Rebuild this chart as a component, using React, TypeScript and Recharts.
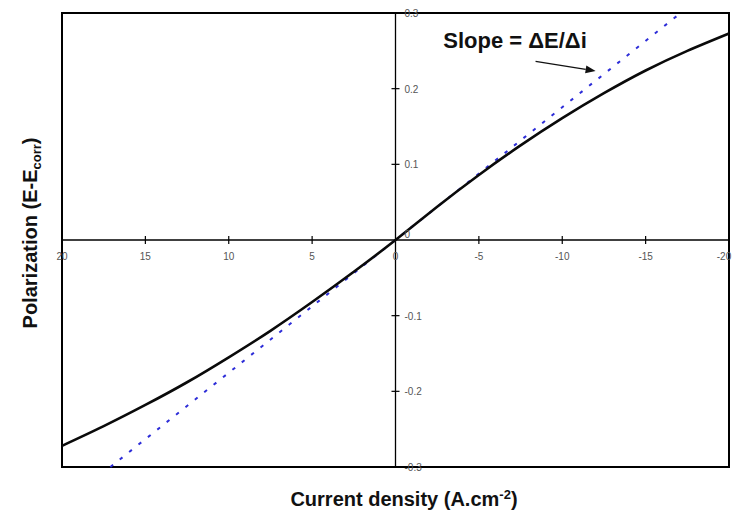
import React from 'react';
import { LineChart, Line, XAxis, YAxis, ReferenceLine, ReferenceArea } from 'recharts';

// current density (reversed axis: anodic left, cathodic right)
const CURRENT = [20, 17.5, 15, 12.5, 10, 7.5, 5, 2.5, 0, -2.5, -5, -7.5, -10, -12.5, -15, -17.5, -20];
const POLARIZATION = [-0.272, -0.246, -0.218, -0.188, -0.155, -0.12, -0.082, -0.042, 0, 0.044, 0.086, 0.125, 0.161, 0.194, 0.224, 0.25, 0.273];

// tangent at the origin, slope = dE/di
const TANGENT_I = [17.1, -17.1];
const TANGENT_E = [-0.3, 0.3];

const X_TICKS = [20, 15, 10, 5, 0, -5, -10, -15, -20];
const Y_TICKS = [0.3, 0.2, 0.1, 0, -0.1, -0.2, -0.3];

// arrow pointing at the tangent line
const ARROW = [
  { x: -8.4, y: 0.236 },
  { x: -12.0, y: 0.2235 },
];

const curveData = CURRENT.map((i, k) => ({ i, e: POLARIZATION[k] }));
const tangentData = TANGENT_I.map((i, k) => ({ i, e: TANGENT_E[k] }));

const W = 733;
const H = 514;
const X_AXIS_H = 30;
const Y_AXIS_W = 60;
const M = { top: 13, right: 4, bottom: 47 - X_AXIS_H, left: 62 - Y_AXIS_W };
const PLOT_W = W - 62 - M.right;
const PLOT_H = H - M.top - 47;
const MID_X = 62 + PLOT_W / 2;
const MID_Y = M.top + PLOT_H / 2;

const FONT = '"Liberation Sans", Arial, sans-serif';

const XTick = (props: any) => {
  const { x, payload } = props;
  const v = payload.value;
  const inner = v !== 0 && Math.abs(v) !== 20;
  // last label sits on the right frame, keep it inside the picture
  const tx = v === -20 ? x - 5 : x;
  return (
    <g>
      {inner && <line x1={x} x2={x} y1={MID_Y - 4} y2={MID_Y + 4} stroke="#000" strokeWidth={1.2} />}
      <text x={tx} y={MID_Y + 20} textAnchor="middle" fontSize={10} fill="#555" fontFamily={FONT}>
        {v}
      </text>
    </g>
  );
};

const YTick = (props: any) => {
  const { y, payload } = props;
  const v = payload.value;
  const inner = v !== 0 && Math.abs(v) !== 0.3;
  return (
    <g>
      {inner && <line x1={MID_X - 4} x2={MID_X + 4} y1={y} y2={y} stroke="#000" strokeWidth={1.2} />}
      <text x={MID_X + 9} y={v === 0 ? y - 2 : y + 4} textAnchor="start" fontSize={10} fill="#555" fontFamily={FONT}>
        {v}
      </text>
    </g>
  );
};

const Arrow = (props: any) => {
  const { x1, y1, x2, y2 } = props;
  const a = Math.atan2(y2 - y1, x2 - x1);
  const len = 10;
  const hw = 4;
  const bx = x2 - len * Math.cos(a);
  const by = y2 - len * Math.sin(a);
  const px = -Math.sin(a) * hw;
  const py = Math.cos(a) * hw;
  return (
    <g>
      <line x1={x1} y1={y1} x2={bx} y2={by} stroke="#111" strokeWidth={1.3} />
      <polygon points={`${x2},${y2} ${bx + px},${by + py} ${bx - px},${by - py}`} fill="#111" />
    </g>
  );
};

export default function App() {
  return (
    <div style={{ position: 'absolute', left: 0, top: 0, width: W, height: H, background: '#fff' }}>
      <LineChart width={W} height={H} margin={M}>
        <XAxis
          dataKey="i"
          type="number"
          domain={[-20, 20]}
          reversed
          ticks={X_TICKS}
          interval={0}
          axisLine={false}
          tickLine={false}
          height={X_AXIS_H}
          tick={<XTick />}
        />
        <YAxis
          type="number"
          domain={[-0.3, 0.3]}
          ticks={Y_TICKS}
          interval={0}
          axisLine={false}
          tickLine={false}
          width={Y_AXIS_W}
          tick={<YTick />}
        />
        <ReferenceLine y={0} stroke="#000" strokeWidth={1.3} />
        <ReferenceLine x={0} stroke="#000" strokeWidth={1.3} />
        <Line
          data={tangentData}
          dataKey="e"
          type="linear"
          stroke="#2d2dd8"
          strokeWidth={2}
          strokeDasharray="3.5 8.5"
          dot={false}
          isAnimationActive={false}
        />
        <Line
          data={curveData}
          dataKey="e"
          type="natural"
          stroke="#0a0a0a"
          strokeWidth={2.6}
          dot={false}
          isAnimationActive={false}
        />
        <ReferenceLine segment={ARROW} shape={<Arrow />} />
        <ReferenceArea x1={-20} x2={20} y1={-0.3} y2={0.3} fill="none" stroke="#000" strokeWidth={2} />
      </LineChart>
      <svg width={W} height={H} style={{ position: 'absolute', left: 0, top: 0, pointerEvents: 'none' }}>
        <text x={515} y={48} textAnchor="middle" fontSize={22} fontWeight="bold" fill="#111" fontFamily={FONT}>
          Slope = ΔE/Δi
        </text>
        <text x={404} y={506} textAnchor="middle" fontSize={20} fontWeight="bold" fill="#111" fontFamily={FONT}>
          Current density (A.cm
          <tspan fontSize={13} dy={-7}>-2</tspan>
          <tspan dy={7}>)</tspan>
        </text>
        <text
          x={0}
          y={0}
          transform={`translate(37, 233) rotate(-90)`}
          textAnchor="middle"
          fontSize={20}
          fontWeight="bold"
          fill="#111"
          fontFamily={FONT}
        >
          Polarization (E-E
          <tspan fontSize={13} dy={4}>corr</tspan>
          <tspan dy={-4}>)</tspan>
        </text>
      </svg>
    </div>
  );
}
